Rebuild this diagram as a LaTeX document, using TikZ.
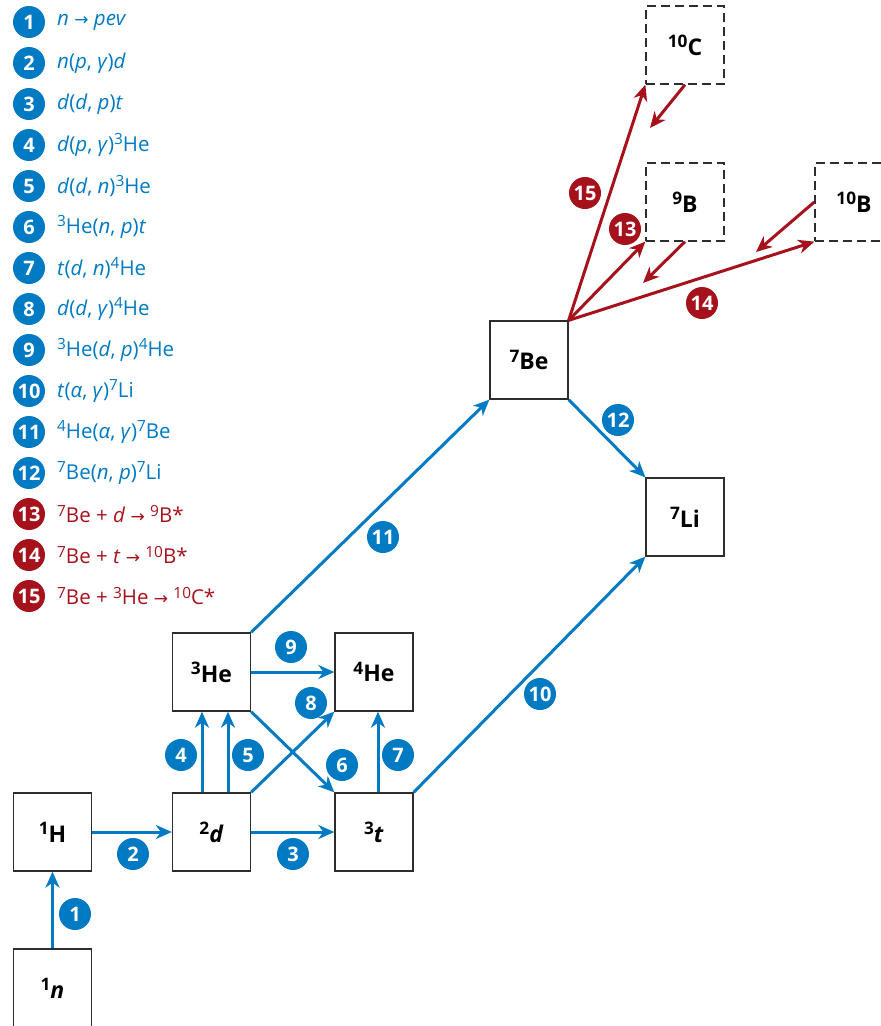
\documentclass[tikz,border=0pt]{standalone}
\usepackage{fontspec}
\setmainfont{Open Sans}
\newfontfamily\arrowfont{DejaVu Sans}
\usetikzlibrary{arrows.meta}
\definecolor{nblue}{RGB}{0,122,194}
\definecolor{nred}{RGB}{166,18,28}
\definecolor{boxgray}{RGB}{45,45,45}
\newcommand{\ar}{{\arrowfont\fontsize{17}{18}\selectfont →}}
\newcommand{\su}[1]{\raisebox{0.62ex}{\scalebox{0.75}{#1}}}
\tikzset{
  nuc/.style={draw=boxgray, line width=1.3pt, minimum width=78pt, minimum height=78pt, inner sep=0pt,
    font=\fontsize{23}{26}\selectfont\bfseries},
  dnuc/.style={nuc, dashed, dash pattern=on 9pt off 5pt},
  barrow/.style={draw=nblue, line width=3pt, -{Stealth[length=16pt,width=14pt,inset=5pt]}},
  rarrow/.style={draw=nred, line width=3pt, -{Stealth[length=16pt,width=14pt,inset=5pt]}},
  bnum/.style={circle, fill=nblue, text=white, minimum size=32pt, inner sep=0pt,
    font=\fontsize{20}{20}\selectfont\bfseries},
  rnum/.style={bnum, fill=nred},
  btxt/.style={anchor=west, text=nblue, inner sep=0pt, font=\fontsize{20.5}{23}\selectfont},
  rtxt/.style={btxt, text=nred}
}
\begin{document}
\begin{tikzpicture}[x=1pt,y=-1pt]
\useasboundingbox (0,0) rectangle (881,1026);
% nuclide boxes
\node[nuc] (n) at (52.5,988) {\su{1}\textit{n}};
\node[nuc] (H) at (52.5,832) {\su{1}H};
\node[nuc] (d) at (211.5,832) {\su{2}\textit{d}};
\node[nuc] (t) at (374,832) {\su{3}\textit{t}};
\node[nuc] (He3) at (211.5,672) {\su{3}He};
\node[nuc] (He4) at (374,672) {\su{4}He};
\node[nuc] (Be) at (529,360) {\su{7}Be};
\node[nuc] (Li) at (685,517) {\su{7}Li};
\node[dnuc] (C) at (685,45) {\su{10}C};
\node[dnuc] (B9) at (685,202) {\su{9}B};
\node[dnuc] (B10) at (854,202) {\su{10}B};
% blue arrows
\draw[barrow] (n.north) -- (H.south);
\draw[barrow] (H.east) -- (d.west);
\draw[barrow] (d.east) -- (t.west);
\draw[barrow] ([xshift=-9.5pt]d.north) -- ([xshift=-9.5pt]He3.south);
\draw[barrow] ([xshift=16.5pt]d.north) -- ([xshift=16.5pt]He3.south);
\draw[barrow] (d.north east) -- (He4.south west);
\draw[barrow] (He3.south east) -- (t.north west);
\draw[barrow] ([xshift=4pt]t.north) -- ([xshift=4pt]He4.south);
\draw[barrow] (He3.east) -- (He4.west);
\draw[barrow] (t.north east) -- (Li.south west);
\draw[barrow] (He3.north east) -- (Be.south west);
\draw[barrow] (Be.south east) -- (Li.north west);
% red arrows
\coordinate (rc) at (650,128);
\coordinate (rb) at (643,283);
\coordinate (rbb) at (756,252);
\draw[rarrow] (Be.north east) -- (C.south west);
\draw[rarrow] (Be.north east) -- (B9.south west);
\draw[rarrow] (Be.north east) -- (B10.south west);
\draw[rarrow] (C.south) -- (rc);
\draw[rarrow] (B9.south) -- (rb);
\draw[rarrow] (B10.west) -- (rbb);
% arrow labels
\node[bnum] (l1) at (75,914) {1};
\node[bnum] (l2) at (133,854) {2};
\node[bnum] (l3) at (293,854) {3};
\node[bnum] (l4) at (181,755) {4};
\node[bnum] (l5) at (248,755) {5};
\node[bnum] (l6) at (342,765) {6};
\node[bnum] (l7) at (398,755) {7};
\node[bnum] (l8) at (311,703) {8};
\node[bnum] (l9) at (291,647) {9};
\node[bnum] (l10) at (540,694) {10};
\node[bnum] (l11) at (383,537) {11};
\node[bnum] (l12) at (618,420) {12};
\node[rnum] (l13) at (625,229) {13};
\node[rnum] (l14) at (702,303) {14};
\node[rnum] (l15) at (585,193) {15};
% legend
\foreach \i/\txt in {
  1/{\textit{n} \ar\ \textit{pev}},
  2/{\textit{n}(\textit{p}, \textit{γ})\textit{d}},
  3/{\textit{d}(\textit{d}, \textit{p})\textit{t}},
  4/{\textit{d}(\textit{p}, \textit{γ})\su{3}He},
  5/{\textit{d}(\textit{d}, \textit{n})\su{3}He},
  6/{\su{3}He(\textit{n}, \textit{p})\textit{t}},
  7/{\textit{t}(\textit{d}, \textit{n})\su{4}He},
  8/{\textit{d}(\textit{d}, \textit{γ})\su{4}He},
  9/{\su{3}He(\textit{d}, \textit{p})\su{4}He},
  10/{\textit{t}(\textit{α}, \textit{γ})\su{7}Li},
  11/{\su{4}He(\textit{α}, \textit{γ})\su{7}Be},
  12/{\su{7}Be(\textit{n}, \textit{p})\su{7}Li}}
{
  \node[bnum] (k\i) at (29,{22+41*(\i-1)}) {\i};
  \node[btxt] (kt\i) at (57,{22+41*(\i-1)}) {\txt};
}
\foreach \i/\txt in {
  13/{\su{7}Be + \textit{d} \ar\ \su{9}B*},
  14/{\su{7}Be + \textit{t} \ar\ \su{10}B*},
  15/{\su{7}Be + \su{3}He \ar\ \su{10}C*}}
{
  \node[rnum] (k\i) at (29,{22+41*(\i-1)}) {\i};
  \node[rtxt] (kt\i) at (57,{22+41*(\i-1)}) {\txt};
}
\end{tikzpicture}
\end{document}
